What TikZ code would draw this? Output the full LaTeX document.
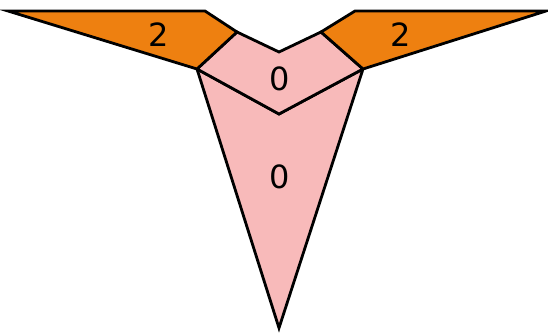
\documentclass[tikz,border=0pt]{standalone}
\usepackage{fontspec}
\setmainfont{DejaVu Sans}
\definecolor{orng}{RGB}{238,128,16}
\definecolor{pnk}{RGB}{248,186,186}
\begin{document}
\begin{tikzpicture}[x=1pt,y=-1pt,
  piece/.style={draw=black,line width=2.8pt,line join=miter},
  lbl/.style={font=\fontsize{32}{32}\selectfont,inner sep=0pt}]
\useasboundingbox (0,0) rectangle (548,332);
\coordinate (LT) at (8,11);
\coordinate (LA) at (205,11);
\coordinate (LB) at (237,32);
\coordinate (LC) at (197,69);
\coordinate (RT) at (546,11);
\coordinate (RA) at (355,11);
\coordinate (RB) at (321,32);
\coordinate (RC) at (363,69);
\coordinate (MN) at (279,52);
\coordinate (MV) at (279,114);
\coordinate (TIP) at (279,328);
\filldraw[piece,fill=pnk] (LC) -- (MV) -- (RC) -- (TIP) -- cycle;
\filldraw[piece,fill=pnk] (LC) -- (LB) -- (MN) -- (RB) -- (RC) -- (MV) -- cycle;
\filldraw[piece,fill=orng] (LT) -- (LA) -- (LB) -- (LC) -- cycle;
\filldraw[piece,fill=orng] (RT) -- (RA) -- (RB) -- (RC) -- cycle;
\node[lbl] (l1) at (159,35) {2};
\node[lbl] (l2) at (401,35) {2};
\node[lbl] (l3) at (280,79) {0};
\node[lbl] (l4) at (280,177) {0};
\end{tikzpicture}
\end{document}
